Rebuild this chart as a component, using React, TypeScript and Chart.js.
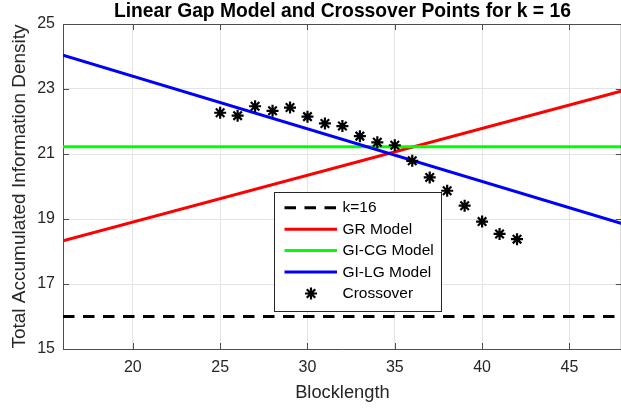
import { useEffect, useRef } from "react";
import { Chart, registerables } from "chart.js";

Chart.register(...registerables);

// Axis limits and tick values
const xRange = [16, 48];
const yRange = [15, 25];
const xTicks = [20, 25, 30, 35, 40, 45];
const yTicks = [15, 17, 19, 21, 23, 25];

// Model lines, given at the two ends of the blocklength range
const lineEnds = [16, 48];
const kLevel = [16, 16];
const grModel = [18.33, 22.94];
const giCgModel = [21.22, 21.22];
const giLgModel = [24.04, 18.86];

// Crossover points
const crossoverLength = [25, 26, 27, 28, 29, 30, 31, 32, 33, 34, 35, 36, 37, 38, 39, 40, 41, 42];
const crossoverDensity = [
  22.27, 22.18, 22.47, 22.33, 22.43, 22.15, 21.94, 21.86, 21.55, 21.36, 21.27, 20.79, 20.28,
  19.87, 19.41, 18.92, 18.54, 18.38,
];

const titleText = "Linear Gap Model and Crossover Points for k = 16";
const FONT = "'Liberation Sans', Arial, Helvetica, sans-serif";
const AXIS = "#4d4d4d";
const TEXT = "#262626";
const GRID = "#e4e4e4";
const DASH = [11.5, 8.5];

const toPoints = (xs: number[], ys: number[]) => xs.map((x, i) => ({ x, y: ys[i] }));

function drawStar(ctx: CanvasRenderingContext2D, cx: number, cy: number, r: number) {
  ctx.beginPath();
  for (let k = 0; k < 4; k++) {
    const a = (k * Math.PI) / 4;
    ctx.moveTo(cx - r * Math.cos(a), cy - r * Math.sin(a));
    ctx.lineTo(cx + r * Math.cos(a), cy + r * Math.sin(a));
  }
  ctx.stroke();
}

// Box outline, inward ticks, title and the in-plot legend
const framePlugin = {
  id: "frame",
  afterDraw(chart: any) {
    const { ctx, chartArea: a, scales } = chart;
    const xs = scales.x;
    const ys = scales.y;
    ctx.save();
    ctx.strokeStyle = AXIS;
    ctx.lineWidth = 1;
    ctx.beginPath();
    ctx.moveTo(a.left, a.top + 0.5);
    ctx.lineTo(a.right, a.top + 0.5);
    ctx.moveTo(a.right - 0.5, a.top);
    ctx.lineTo(a.right - 0.5, a.bottom);
    for (const v of xTicks) {
      const px = Math.round(xs.getPixelForValue(v)) + 0.5;
      ctx.moveTo(px, a.bottom);
      ctx.lineTo(px, a.bottom - 6);
      ctx.moveTo(px, a.top);
      ctx.lineTo(px, a.top + 6);
    }
    for (const v of yTicks) {
      const py = Math.round(ys.getPixelForValue(v)) + 0.5;
      ctx.moveTo(a.left, py);
      ctx.lineTo(a.left + 6, py);
      ctx.moveTo(a.right, py);
      ctx.lineTo(a.right - 6, py);
    }
    ctx.stroke();

    // title
    ctx.fillStyle = "#000";
    ctx.font = `bold 19.3px ${FONT}`;
    ctx.textAlign = "center";
    ctx.textBaseline = "middle";
    ctx.fillText(titleText, (a.left + a.right) / 2, 12);

    // legend
    const bx = 274.5;
    const by = 192.5;
    const bw = 167;
    const bh = 119;
    ctx.fillStyle = "#fff";
    ctx.fillRect(bx, by, bw, bh);
    ctx.strokeStyle = "#262626";
    ctx.lineWidth = 1;
    ctx.strokeRect(bx, by, bw, bh);
    ctx.font = `15.5px ${FONT}`;
    ctx.textAlign = "left";
    ctx.textBaseline = "middle";
    const items = chart.data.datasets;
    items.forEach((ds: any, i: number) => {
      const y = 207.7 + i * 21.45;
      ctx.strokeStyle = ds.borderColor;
      if (ds.showLine) {
        ctx.lineWidth = ds.borderWidth;
        ctx.setLineDash(ds.borderDash || []);
        ctx.beginPath();
        ctx.moveTo(284.5, y);
        ctx.lineTo(337, y);
        ctx.stroke();
        ctx.setLineDash([]);
      } else {
        ctx.lineWidth = ds.borderWidth;
        drawStar(ctx, 311, y, ds.pointRadius);
      }
      ctx.fillStyle = "#000";
      ctx.fillText(ds.label, 342.5, y + 0.5);
    });
    ctx.restore();
  },
};

export default function App() {
  const ref = useRef<HTMLCanvasElement>(null);

  useEffect(() => {
    const canvas = ref.current;
    if (!canvas) return;
    const lineSet = (label: string, ys: number[], color: string, order: number, dash?: number[]) => ({
      label,
      data: toPoints(lineEnds, ys),
      borderColor: color,
      backgroundColor: color,
      borderWidth: 3,
      borderDash: dash,
      pointRadius: 0,
      showLine: true,
      order,
    });
    const chart = new Chart(canvas, {
      type: "scatter",
      data: {
        datasets: [
          lineSet("k=16", kLevel, "#000000", 5, DASH),
          lineSet("GR Model", grModel, "#ff0000", 4),
          lineSet("GI-CG Model", giCgModel, "#00ff00", 3),
          lineSet("GI-LG Model", giLgModel, "#0000ff", 2),
          {
            label: "Crossover",
            data: toPoints(crossoverLength, crossoverDensity),
            borderColor: "#000000",
            backgroundColor: "#000000",
            borderWidth: 2.2,
            pointStyle: "star",
            pointRadius: 6,
            pointHoverRadius: 6,
            showLine: false,
            order: 1,
          } as any,
        ],
      },
      plugins: [framePlugin],
      options: {
        responsive: false,
        animation: false,
        events: [],
        layout: { padding: { top: 24, right: 3, left: 0, bottom: 0 } },
        plugins: {
          legend: { display: false },
          title: { display: false },
          tooltip: { enabled: false },
        },
        scales: {
          x: {
            type: "linear",
            min: xRange[0],
            max: xRange[1],
            afterBuildTicks: (s: any) => {
              s.ticks = xTicks.map((value) => ({ value }));
            },
            afterFit: (s: any) => {
              s.height = 64;
            },
            grid: { color: GRID, lineWidth: 1, drawTicks: false },
            border: { display: true, color: AXIS, width: 1 },
            ticks: {
              color: TEXT,
              padding: 9.4,
              maxRotation: 0,
              font: { family: FONT, size: 16 },
            },
            title: {
              display: true,
              text: "Blocklength",
              color: TEXT,
              font: { family: FONT, size: 18.3 },
              padding: { top: 0, bottom: 9 },
            },
          },
          y: {
            type: "linear",
            min: yRange[0],
            max: yRange[1],
            afterBuildTicks: (s: any) => {
              s.ticks = yTicks.map((value) => ({ value }));
            },
            afterFit: (s: any) => {
              s.width = 63;
            },
            grid: { color: GRID, lineWidth: 1, drawTicks: false },
            border: { display: true, color: AXIS, width: 1 },
            ticks: {
              color: TEXT,
              padding: 8,
              font: { family: FONT, size: 16 },
            },
            title: {
              display: true,
              text: "Total Accumulated Information Density",
              color: TEXT,
              font: { family: FONT, size: 19 },
              padding: { top: 8.2, bottom: 0 },
            },
          },
        },
      },
    });
    return () => chart.destroy();
  }, []);

  return (
    <div
      style={{
        position: "absolute",
        left: 0,
        top: 0,
        width: 621,
        height: 413,
        overflow: "hidden",
        background: "#fff",
      }}
    >
      <canvas ref={ref} width={630} height={413} style={{ width: 630, height: 413, display: "block" }} />
    </div>
  );
}
